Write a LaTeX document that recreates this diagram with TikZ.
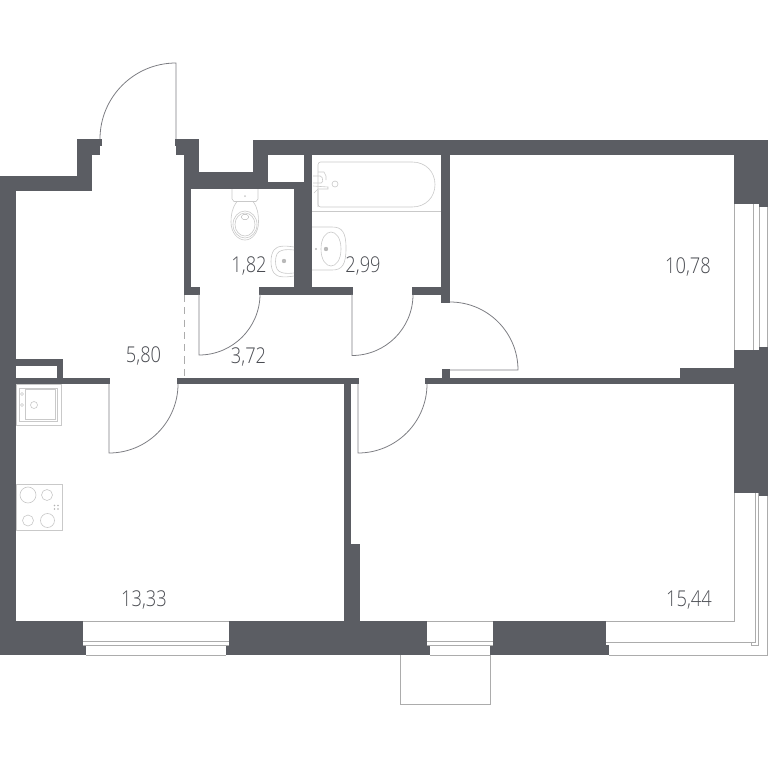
\documentclass[tikz,border=0pt]{standalone}
\usepackage{fontspec}
\setmainfont[UprightFont=* Light, FakeStretch=0.84]{Open Sans}
\definecolor{wallgray}{HTML}{5B5D63}
\definecolor{labelgray}{HTML}{4A4C52}
\begin{document}
\begin{tikzpicture}[x=0.02cm, y=-0.02cm,
    wall/.style={fill=wallgray},
    leaf/.style={draw=wallgray!80, line width=0.45pt},
    pane/.style={draw=gray!65, line width=0.55pt},
    fixture/.style={draw=gray!42, line width=0.35pt},
    area/.style={text=labelgray, font=\fontsize{12.4}{12.4}\selectfont, anchor=base, inner sep=0pt}]
    \useasboundingbox (0,0) rectangle (768,768);

    % Outer walls, left and entrance
    \fill[wall] (0,176) rectangle (16,655);
    \fill[wall] (0,176) rectangle (92,191);
    \fill[wall] (77,139) rectangle (92,191);
    \fill[wall] (77,139) rectangle (100,155);
    \fill[wall] (100,139) rectangle (102,146);
    \fill[wall] (174.5,139) rectangle (199,146);
    \fill[wall] (176,146) rectangle (199,155);

    % Walls round the shaft
    \fill[wall] (184,139) rectangle (199,189);
    \fill[wall] (184,172) rectangle (268,189);
    \fill[wall] (253,140) rectangle (268,189);
    \fill[wall] (253,140) rectangle (768,155);
    \fill[wall] (268,182) rectangle (304,189);

    % Bathroom walls
    \fill[wall] (184,189) rectangle (191,295);
    \fill[wall] (294,189) rectangle (312,295);
    \fill[wall] (304,155) rectangle (312,189);
    \fill[wall] (184,287) rectangle (200,295);
    \fill[wall] (259,287) rectangle (353,295);
    \fill[wall] (412,287) rectangle (450,295);
    \fill[wall] (441,155) rectangle (450,303);

    % Inner walls
    \fill[wall] (16,378) rectangle (110,384);
    \fill[wall] (16,359) rectangle (63,366);
    \fill[wall] (57,359) rectangle (63,384);
    \fill[wall] (177,378) rectangle (359,384);
    \fill[wall] (344,378) rectangle (351,621);
    \fill[wall] (344,544) rectangle (360,621);
    \fill[wall] (425,378) rectangle (734,384);
    \fill[wall] (442,369) rectangle (450,384);
    \fill[wall] (680,368) rectangle (734,384);

    % Right wall
    \fill[wall] (734,140) rectangle (768,204);
    \fill[wall] (759,204) rectangle (768,207);
    \fill[wall] (734,350) rectangle (768,493);
    \fill[wall] (759,347) rectangle (768,350);
    \fill[wall] (758,493) rectangle (768,496);

    % Bottom wall
    \fill[wall] (0,621) rectangle (83,655);
    \fill[wall] (83,645) rectangle (86,655);
    \fill[wall] (226,645) rectangle (229,655);
    \fill[wall] (229,621) rectangle (427,655);
    \fill[wall] (427,645) rectangle (430,655);
    \fill[wall] (490,645) rectangle (493,655);
    \fill[wall] (493,621) rectangle (606,655);
    \fill[wall] (606,645) rectangle (609,655);

    % Windows
    \draw[pane] (83,621.5) -- (229,621.5);
    \draw[pane] (83,641) -- (229,641) (83,645.5) -- (229,645.5);
    \draw[pane] (86,655) -- (226,655);
    \draw[pane] (427,621.5) -- (493,621.5);
    \draw[pane] (427,641) -- (493,641) (427,645.5) -- (493,645.5);
    \draw[pane] (430,655) -- (490,655);
    \draw[pane] (734,204) -- (734,350);
    \draw[pane] (753,204) -- (753,350);
    \draw[pane] (759,207) -- (759,347);
    \draw[pane] (767.5,207) -- (767.5,347);
    \draw[pane] (606,621.5) -- (734,621.5) -- (734,493);
    \draw[pane] (606,642.5) -- (755.5,642.5) -- (755.5,493);
    \draw[pane] (751,642.5) -- (751,645) -- (758.3,645) -- (758.3,493);
    \draw[pane] (609,655) -- (767.5,655) -- (767.5,496);

    % Balcony stub
    \draw[pane] (400,655) -- (400,704) -- (490.5,704) -- (490.5,655);

    % Doors
    \draw[leaf] (176,139) -- (176,63) arc[start angle=270, end angle=180, radius=76];
    \draw[leaf] (109,384) -- (109,453) arc[start angle=90, end angle=0, radius=69];
    \draw[leaf] (199,294) -- (199,355) arc[start angle=90, end angle=0, radius=61];
    \draw[leaf] (352,294) -- (352,355.5) arc[start angle=90, end angle=0, radius=61];
    \draw[leaf] (358,384) -- (358,453) arc[start angle=90, end angle=0, radius=69];
    \draw[leaf] (450,370) -- (518,370) arc[start angle=0, end angle=-90, radius=68];
    \draw[pane, dash pattern=on 4pt off 3pt] (184,295) -- (184,378);

    % Toilet
    \draw[fixture] (232,189) -- (232,199) -- (234,201.5) -- (256,201.5) -- (258,199) -- (258,189);
    \fill[gray!42] (245,196) circle (1);
    \draw[fixture] (237,201.5) .. controls (232,208) and (231,215) .. (231,222)
        .. controls (231,233) and (238,240) .. (245,240)
        .. controls (252,240) and (258.5,233) .. (258.5,222)
        .. controls (258.5,215) and (258,208) .. (253,201.5);
    \draw[fixture] (245,224.5) ellipse [x radius=12, y radius=13.5];
    \draw[fixture] (245,224.5) ellipse [x radius=10, y radius=11.5];
    \draw[fixture, rounded corners=1pt] (241.5,214.5) rectangle (248.5,219.5);

    % Washbasins
    \draw[fixture] (294,247) .. controls (285,245.5) and (277,245.5) .. (274,250)
        .. controls (270,255) and (270,268) .. (274,273)
        .. controls (277,277.5) and (285,277.5) .. (294,276);
    \draw[fixture] (294,250) .. controls (285,249) and (279,250) .. (277,254)
        .. controls (275,258) and (275,265) .. (277,269)
        .. controls (279,273) and (285,274) .. (294,273);
    \fill[gray!55] (284,261) circle (2.2);
    \draw[fixture] (312,227) -- (332,227) .. controls (342,227) and (346,232) .. (346,248)
        .. controls (346,265) and (342,270) .. (332,270) -- (312,270);
    \draw[fixture] (331,232) .. controls (336,232) and (341,238) .. (341,249)
        .. controls (341,260) and (336,266) .. (331,266)
        .. controls (326,266) and (321,260) .. (321,249)
        .. controls (321,238) and (326,232) .. (331,232);
    \fill[gray!55] (326,249) circle (2.2);
    \fill[gray!55] (316,249) circle (1.2);

    % Bath
    \draw[fixture, rounded corners=1.5pt] (318,207) -- (318,162) -- (412,162);
    \draw[fixture] (412,162) .. controls (426,162) and (435,172) .. (435,184.5)
        .. controls (435,197) and (426,207) .. (412,207);
    \draw[fixture, rounded corners=1.5pt] (412,207) -- (318,207) -- (318,190);
    \draw[fixture] (312,211) -- (441,211);
    \draw[fixture] (335,184) circle (3);
    \draw[fixture, rounded corners=1pt] (313,176) -- (322,176) -- (323,183) -- (313,183);
    \draw[fixture] (318,172) -- (324,172) -- (326,176) -- (326,180);
    \draw[fixture] (313,186) -- (328,187) -- (328,189) -- (318,189) -- (314,193);

    % Kitchen sink
    \draw[fixture] (16,384) rectangle (61.5,425);
    \draw[fixture] (19,388) rectangle (57,421);
    \draw[fixture] (25,389.5) rectangle (55.5,419.5);
    \draw[fixture] (34,405) circle (3.5);
    \draw[fixture] (22,394) circle (1.5);
    \draw[fixture] (22,405) circle (1.5);

    % Cooker
    \draw[fixture] (16,484) rectangle (62,530);
    \draw[fixture] (28,495) circle (8);
    \draw[fixture] (47,495) circle (5.5);
    \draw[fixture] (28,520.5) circle (5.5);
    \draw[fixture] (47.5,520.5) circle (7);
    \foreach \dotx in {54.5,58}
        \foreach \doty in {505.5,509}
            \fill[gray!60] (\dotx,\doty) circle (0.8);

    % Areas
    \node[area] (hall) at (143.5,362) {5,80};
    \node[area] (corridor) at (248.5,363) {3,72};
    \node[area] (wc) at (249,272) {1,82};
    \node[area] (bath) at (363,272) {2,99};
    \node[area] (bedroom) at (688,273) {10,78};
    \node[area] (kitchen) at (144,606.5) {13,33};
    \node[area] (living) at (689,606.5) {15,44};
\end{tikzpicture}
\end{document}
